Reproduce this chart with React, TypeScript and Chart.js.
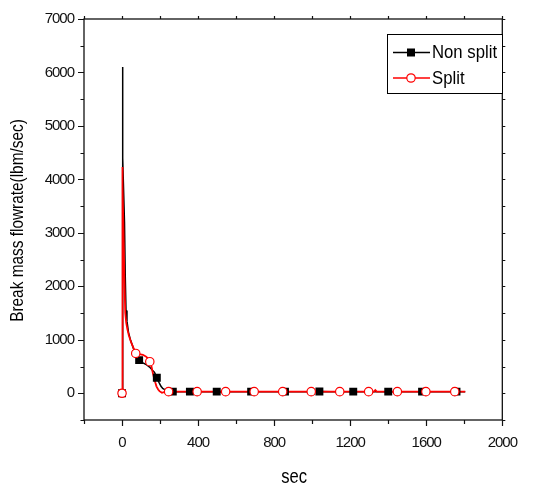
import React, { useEffect, useRef } from "react";
import { Chart, registerables } from "chart.js";

Chart.register(...registerables);

// ---- Data ----
const nonSplitTime = [0, 2, 5, 9, 13, 17, 21, 26, 34, 45, 60, 75, 90, 110, 130, 145, 160, 171, 183, 195, 205, 214, 231, 250, 267, 300, 357, 400, 498, 600, 679, 800, 857, 1000, 1038, 1100, 1216, 1300, 1400, 1500, 1578, 1700, 1759, 1805];
const nonSplitFlow = [0, 6100, 4400, 3700, 3200, 2200, 1550, 1350, 1140, 990, 840, 720, 620, 570, 530, 490, 430, 390, 290, 200, 130, 90, 55, 38, 30, 30, 30, 30, 30, 30, 30, 30, 30, 30, 34, 30, 30, 30, 30, 30, 30, 30, 30, 30];
const nonSplitMarkerTimes = [0, 90, 183, 267, 357, 498, 679, 857, 1038, 1216, 1400, 1578, 1759];

const splitTime = [0, 1, 4, 8, 12, 17, 22, 28, 36, 48, 60, 72, 90, 110, 125, 138, 146, 155, 162, 168, 175, 181, 190, 197, 210, 225, 245, 300, 395, 500, 545, 695, 845, 995, 1040, 1145, 1297, 1325, 1332, 1340, 1448, 1598, 1750, 1805];
const splitFlow = [0, 4230, 3900, 3000, 2200, 1500, 1320, 1200, 1080, 950, 850, 745, 730, 720, 690, 650, 590, 500, 380, 290, 200, 130, 70, 40, 8, 25, 30, 30, 30, 30, 30, 30, 30, 30, 30, 30, 30, 30, 60, 30, 30, 30, 30, 30];
const splitMarkerTimes = [0, 72, 146, 245, 395, 545, 695, 845, 995, 1145, 1297, 1448, 1598, 1750];

const seriesNames = ["Non split", "Split"];
const xTitle = "sec";
const yTitle = "Break mass flowrate(lbm/sec)";
const xMin = -200, xMax = 2000, xMinorStep = 200, xMajorStep = 400;
const yMin = -500, yMax = 7000, yMinorStep = 500, yMajorStep = 1000;

const FONT = "'Liberation Sans', Arial, sans-serif";

function toPoints(t: number[], v: number[]) {
  return t.map((x, i) => ({ x, y: v[i] }));
}
function markerPoints(t: number[], v: number[], marks: number[]) {
  return marks.map((m) => {
    const i = t.indexOf(m);
    return { x: m, y: v[i] };
  });
}

function condensedText(ctx: any, text: string, x: number, y: number, sx: number, align: string) {
  ctx.save();
  ctx.translate(x, y);
  ctx.scale(sx, 1);
  ctx.textAlign = align;
  ctx.fillText(text, 0, 0);
  ctx.restore();
}

const framePlugin = {
  id: "frameTicks",
  beforeDraw(chart: any) {
    // tight letter spacing like the original (condensed Arial look)
    chart.ctx.letterSpacing = "-1px";
  },
  beforeDatasetsDraw(chart: any) {
    const { ctx, chartArea: a, scales } = chart;
    const xs = scales.x, ys = scales.y;
    ctx.save();
    ctx.strokeStyle = "#111";
    ctx.lineWidth = 1.3;
    ctx.strokeRect(a.left, a.top, a.right - a.left, a.bottom - a.top);
    ctx.lineWidth = 1.2;
    ctx.beginPath();
    for (let v = xMin; v <= xMax + 1e-6; v += xMinorStep) {
      const p = Math.round(xs.getPixelForValue(v)) + 0.5;
      const major = v % xMajorStep === 0;
      const len = major ? 6 : 4;
      ctx.moveTo(p, a.bottom);
      ctx.lineTo(p, a.bottom + len);
      ctx.moveTo(p, a.top);
      ctx.lineTo(p, a.top - 3);
    }
    for (let v = yMin; v <= yMax + 1e-6; v += yMinorStep) {
      const p = Math.round(ys.getPixelForValue(v)) + 0.5;
      const major = v % yMajorStep === 0;
      const len = major ? 6 : 3.5;
      ctx.moveTo(a.left, p);
      ctx.lineTo(a.left - len, p);
      ctx.moveTo(a.right, p);
      ctx.lineTo(a.right + 3, p);
    }
    ctx.stroke();

    // axis titles
    ctx.letterSpacing = "0px";
    ctx.fillStyle = "#000";
    ctx.textBaseline = "middle";
    ctx.font = `20px ${FONT}`;
    condensedText(ctx, xTitle, (a.left + a.right) / 2 + 1, 477, 0.83, "center");
    ctx.save();
    ctx.translate(18, (a.top + a.bottom) / 2 + 1);
    ctx.rotate(-Math.PI / 2);
    ctx.font = `19px ${FONT}`;
    condensedText(ctx, yTitle, 0, 0, 0.81, "center");
    ctx.restore();
    ctx.restore();
  },
  afterDraw(chart: any) {
    const { ctx } = chart;
    ctx.save();
    ctx.letterSpacing = "0px";
    const bx = 387.5, by = 34.5, bw = 115, bh = 59;
    ctx.fillStyle = "#fff";
    ctx.fillRect(bx, by, bw, bh);
    ctx.strokeStyle = "#000";
    ctx.lineWidth = 1;
    ctx.strokeRect(bx, by, bw, bh);
    const rows = [
      { y: 52.5, color: "#000", kind: "rect" },
      { y: 78, color: "#ff0000", kind: "circle" },
    ];
    rows.forEach((r, i) => {
      ctx.strokeStyle = r.color;
      ctx.lineWidth = 1.3;
      ctx.beginPath();
      ctx.moveTo(393, r.y);
      ctx.lineTo(430, r.y);
      ctx.stroke();
      if (r.kind === "rect") {
        ctx.fillStyle = "#000";
        ctx.fillRect(407, r.y - 4, 8, 8);
      } else {
        ctx.fillStyle = "#fff";
        ctx.beginPath();
        ctx.arc(411, r.y, 4.2, 0, Math.PI * 2);
        ctx.fill();
        ctx.lineWidth = 1.2;
        ctx.stroke();
      }
      ctx.fillStyle = "#000";
      ctx.font = `19px ${FONT}`;
      ctx.textBaseline = "middle";
      condensedText(ctx, seriesNames[i], 432, r.y + 0.5, 0.88, "left");
    });
    ctx.restore();
  },
};

export default function App() {
  const ref = useRef<HTMLCanvasElement | null>(null);
  useEffect(() => {
    if (!ref.current) return;
    const chart = new Chart(ref.current, {
      type: "line",
      data: {
        datasets: [
          {
            label: seriesNames[1] + " markers",
            data: markerPoints(splitTime, splitFlow, splitMarkerTimes),
            showLine: false,
            pointStyle: "circle",
            pointRadius: 4.2,
            pointBackgroundColor: "#fff",
            pointBorderColor: "#ff0000",
            pointBorderWidth: 1.2,
          },
          {
            label: seriesNames[0] + " markers",
            data: markerPoints(nonSplitTime, nonSplitFlow, nonSplitMarkerTimes),
            showLine: false,
            pointStyle: "rect",
            pointRadius: 5.6,
            pointBackgroundColor: "#000",
            pointBorderColor: "#000",
            pointBorderWidth: 0,
          },
          {
            label: seriesNames[1],
            data: toPoints(splitTime, splitFlow),
            borderColor: "#ff0000",
            borderWidth: 1.8,
            pointRadius: 0,
            tension: 0,
          },
          {
            label: seriesNames[0],
            data: toPoints(nonSplitTime, nonSplitFlow),
            borderColor: "#000",
            borderWidth: 1.5,
            pointRadius: 0,
            tension: 0,
          },
        ],
      },
      options: {
        animation: false,
        responsive: false,
        layout: { padding: { top: 19, right: 15, left: 0, bottom: 0 } },
        plugins: { legend: { display: false }, tooltip: { enabled: false } },
        scales: {
          x: {
            type: "linear",
            min: xMin,
            max: xMax,
            grid: { display: false, drawTicks: false },
            border: { display: false },
            afterFit: (s: any) => { s.height = 66; },
            ticks: {
              stepSize: xMinorStep,
              autoSkip: false,
              maxRotation: 0,
              padding: 14,
              color: "#111",
              font: { family: FONT, size: 15 },
              callback: (v: any) => (v >= 0 && v % xMajorStep === 0 ? String(v) : ""),
            },
          },
          y: {
            type: "linear",
            min: yMin,
            max: yMax,
            grid: { display: false, drawTicks: false },
            border: { display: false },
            afterFit: (s: any) => { s.width = 84; },
            ticks: {
              stepSize: yMinorStep,
              autoSkip: false,
              padding: 10,
              color: "#111",
              font: { family: FONT, size: 15 },
              callback: (v: any) => (v >= 0 && v % yMajorStep === 0 ? String(v) : ""),
            },
          },
        },
      },
      plugins: [framePlugin],
    });
    return () => chart.destroy();
  }, []);
  return (
    <canvas
      ref={ref}
      width={533}
      height={486}
      style={{ position: "fixed", left: 0, top: 0, display: "block" }}
    />
  );
}
